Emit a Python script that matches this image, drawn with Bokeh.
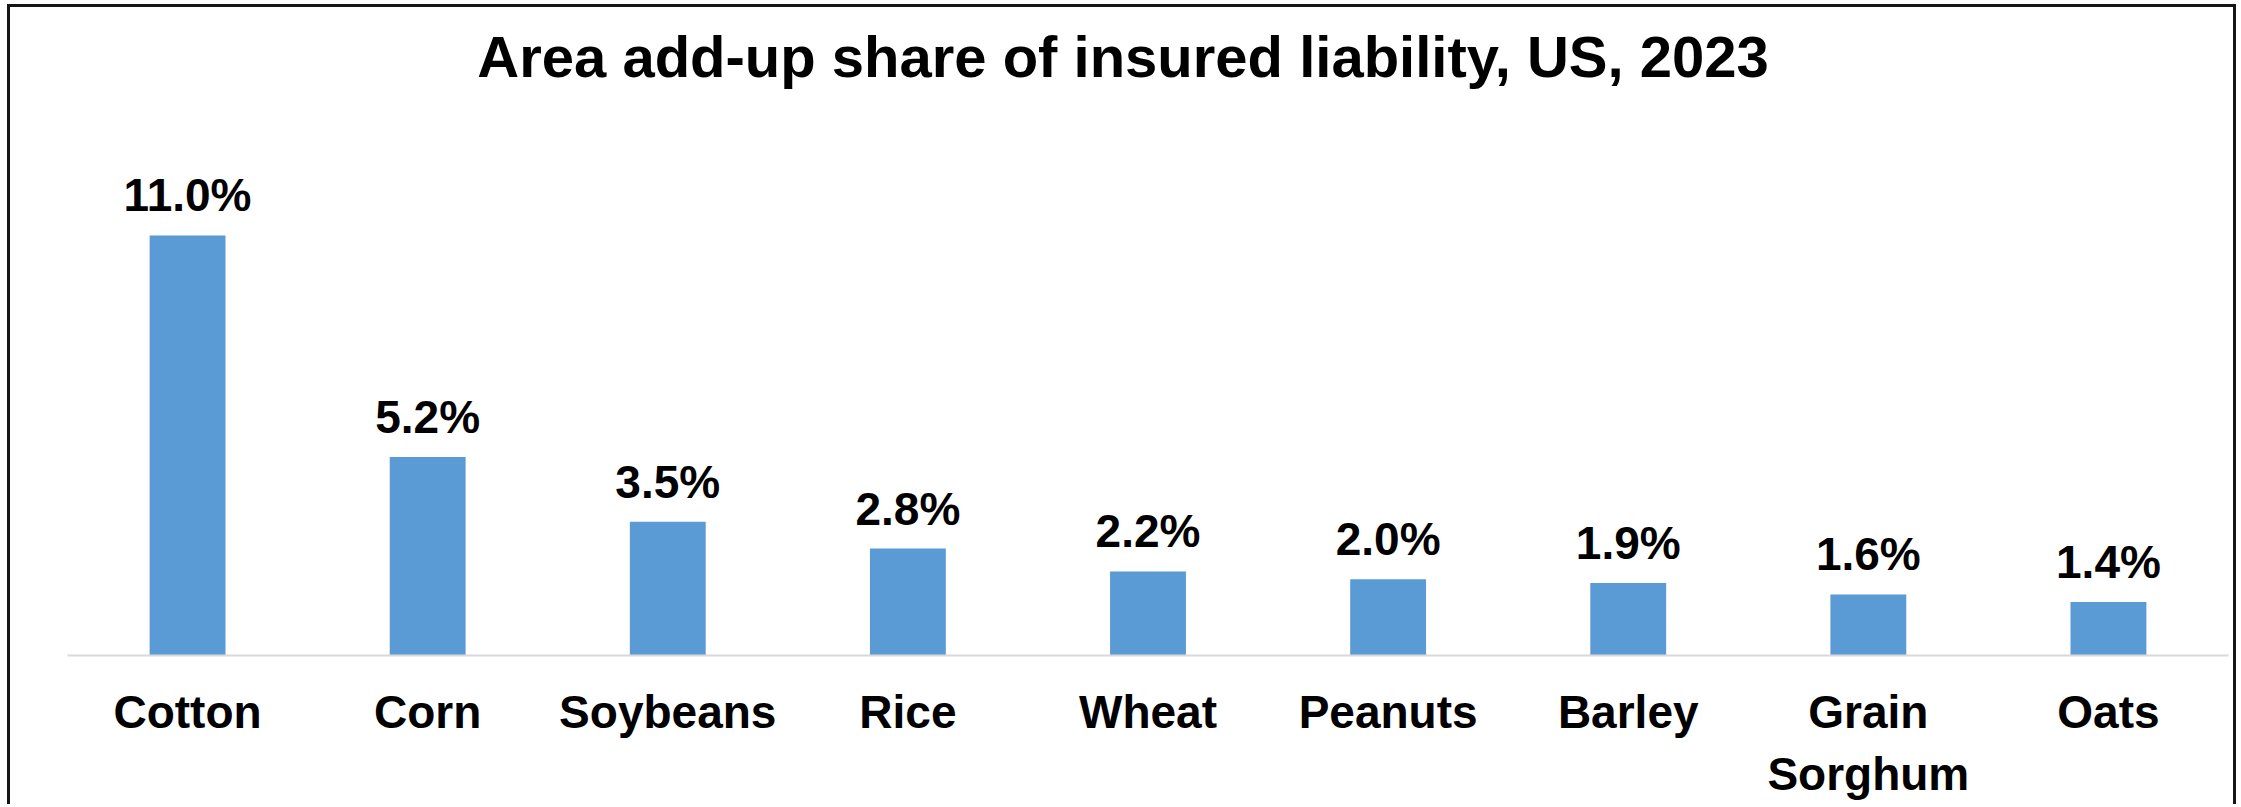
from bokeh.plotting import figure
from bokeh.models import FactorRange, Range1d, Label, ColumnDataSource
from bokeh.core.properties import value
from bokeh.embed import file_html
from bokeh.resources import INLINE

title_text = "Area add-up share of insured liability, US, 2023"
crops = ["Cotton", "Corn", "Soybeans", "Rice", "Wheat", "Peanuts", "Barley",
         "Grain\nSorghum", "Oats"]
shares = [11.0, 5.2, 3.5, 2.8, 2.2, 2.0, 1.9, 1.6, 1.4]
share_labels = ["11.0%", "5.2%", "3.5%", "2.8%", "2.2%", "2.0%", "1.9%", "1.6%", "1.4%"]

FONT = "Liberation Sans"

src = ColumnDataSource(dict(crop=crops, share=shares, label=share_labels))

p = figure(
    x_range=FactorRange(factors=crops, range_padding=0, factor_padding=0),
    y_range=Range1d(0, 16.97),
    width=2223, height=800,
    min_border_left=57, min_border_right=5, min_border_top=0, min_border_bottom=152,
    toolbar_location=None, output_backend="svg",
    y_axis_location=None,
)
p.outline_line_color = None
p.xgrid.visible = False
p.ygrid.visible = False
p.background_fill_color = "white"
p.border_fill_color = "white"
# chart-area border drawn around the figure: left, top and right edges
p.styles = {"box-shadow": "-3px -3px 0 0 #161616, 3px -3px 0 0 #161616",
            "margin-left": "10px", "margin-top": "7px"}

p.vbar(x="crop", top="share", width=0.316, source=src,
       fill_color="#5b9bd5", line_color=None)

p.text(x="crop", y="share", text="label", source=src,
       text_align="center", text_baseline="alphabetic", y_offset=-40,
       text_font=value(FONT), text_font_style="bold",
       text_font_size="46px", text_color="black")

ax = p.xaxis[0]
ax.axis_line_color = "#d9d9d9"
ax.axis_line_width = 2
ax.major_tick_line_color = None
ax.minor_tick_line_color = None
ax.major_tick_out = 0
ax.major_tick_in = 0
ax.major_label_standoff = 30
ax.major_label_text_font = FONT
ax.major_label_text_font_style = "bold"
ax.major_label_text_font_size = "46px"
ax.major_label_text_color = "black"
ax.major_label_text_line_height = 1.2

title = Label(x=4.396, y=15.68, text=title_text, text_align="center",
              text_baseline="alphabetic", text_font=FONT,
              text_font_style="bold", text_font_size="58px", text_color="black")
p.add_layout(title)

open("out.html", "w").write(file_html(p, INLINE))
